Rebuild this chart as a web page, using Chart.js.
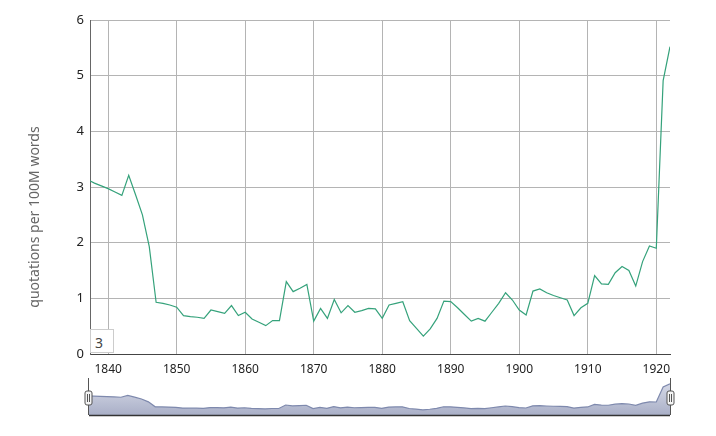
<!DOCTYPE html>
<html>
<head>
<meta charset="utf-8">
<script src="https://cdn.jsdelivr.net/npm/chart.js@4.4.0/dist/chart.umd.min.js"></script>
<style>
    body { margin: 0; background: #fff; }
    #wrap { position: relative; width: 716px; height: 436px; }
    #main { position: absolute; left: 0; top: 0; }
    #nav { position: absolute; left: 0; top: 370px; }
    #badge {
        position: absolute; left: 90px; top: 329px; width: 24px; height: 24px;
        background: #fff; border: 1px solid #ccc; box-sizing: border-box;
        font: 14px "Noto Sans", sans-serif; color: #444; padding: 3px 0 0 4px;
    }
</style>
</head>
<body>
<div id="wrap">
    <canvas id="main" width="716" height="436"></canvas>
    <canvas id="nav" width="716" height="60"></canvas>
    <div id="badge">3</div>
</div>
<script>
const years = [
    1837, 1838, 1839, 1840, 1841, 1842, 1843, 1844, 1845, 1846,
    1847, 1848, 1849, 1850, 1851, 1852, 1853, 1854, 1855, 1856,
    1857, 1858, 1859, 1860, 1861, 1862, 1863, 1864, 1865, 1866,
    1867, 1868, 1869, 1870, 1871, 1872, 1873, 1874, 1875, 1876,
    1877, 1878, 1879, 1880, 1881, 1882, 1883, 1884, 1885, 1886,
    1887, 1888, 1889, 1890, 1891, 1892, 1893, 1894, 1895, 1896,
    1897, 1898, 1899, 1900, 1901, 1902, 1903, 1904, 1905, 1906,
    1907, 1908, 1909, 1910, 1911, 1912, 1913, 1914, 1915, 1916,
    1917, 1918, 1919, 1920, 1921, 1922,
];
const quotations = [
    3.13, 3.07, 3.02, 2.97, 2.91, 2.85, 3.21, 2.86, 2.5, 1.93,
    0.93, 0.91, 0.88, 0.84, 0.69, 0.67, 0.66, 0.64, 0.79, 0.76,
    0.73, 0.87, 0.69, 0.75, 0.63, 0.57, 0.51, 0.6, 0.6, 1.3,
    1.12, 1.18, 1.25, 0.59, 0.82, 0.64, 0.98, 0.74, 0.87, 0.75,
    0.78, 0.82, 0.81, 0.64, 0.88, 0.91, 0.94, 0.6, 0.46, 0.32,
    0.45, 0.64, 0.95, 0.94, 0.83, 0.71, 0.59, 0.64, 0.59, 0.75,
    0.91, 1.1, 0.97, 0.79, 0.7, 1.13, 1.17, 1.1, 1.05, 1.01,
    0.97, 0.69, 0.83, 0.91, 1.41, 1.26, 1.25, 1.46, 1.57, 1.5,
    1.22, 1.66, 1.94, 1.9, 4.91, 5.52,
];
const xTicks = [1840, 1850, 1860, 1870, 1880, 1890, 1900, 1910, 1920];
const yTicks = [0, 1, 2, 3, 4, 5, 6];
const yTitle = "quotations per 100M words";

const points = years.map((yr, i) => ({ x: yr, y: quotations[i] }));
const xMin = 1837.35, xMax = 1922;

// y title, a bit below the axis middle like the original
const yTitlePlugin = {
    id: "yTitle",
    afterDraw(chart) {
        const ctx = chart.ctx;
        ctx.save();
        ctx.translate(35, 217);
        ctx.rotate(-Math.PI / 2);
        ctx.font = '14px "Noto Sans"';
        ctx.fillStyle = "#666";
        ctx.textAlign = "center";
        ctx.textBaseline = "middle";
        ctx.fillText(yTitle, 0, 0);
        ctx.restore();
    },
};

// main chart
new Chart(document.getElementById("main"), {
    type: "line",
    data: {
        datasets: [
            {
                data: points,
                borderColor: "#35a27b",
                borderWidth: 1.2,
                pointRadius: 0,
                tension: 0,
                fill: false,
            },
        ],
    },
    options: {
        responsive: false,
        animation: false,
        layout: { padding: { top: 20, right: 46, bottom: 60, left: 0 } },
        plugins: { legend: { display: false }, tooltip: { enabled: false } },
        scales: {
            x: {
                type: "linear",
                min: xMin,
                max: xMax,
                afterBuildTicks: (s) => { s.ticks = xTicks.map((v) => ({ value: v })); },
                afterFit: (s) => { s.height = 22; },
                ticks: {
                    color: "#222",
                    font: { family: "Noto Sans", size: 12 },
                    padding: 8,
                    maxRotation: 0,
                    callback: (v) => String(v),
                },
                grid: { color: "#b4b4b4", drawTicks: false },
                border: { color: "#444", width: 1 },
            },
            y: {
                min: 0,
                max: 6,
                afterBuildTicks: (s) => { s.ticks = yTicks.map((v) => ({ value: v })); },
                afterFit: (s) => { s.width = 90; },
                ticks: {
                    color: "#222",
                    font: { family: "Noto Sans", size: 13 },
                    padding: 6,
                },
                grid: { color: "#b4b4b4", drawTicks: false },
                border: { color: "#666", width: 1 },
            },
        },
    },
    plugins: [yTitlePlugin],
});

// navigator handles + bottom line
const navPlugin = {
    id: "navDecor",
    afterDraw(chart) {
        const ctx = chart.ctx;
        const a = chart.chartArea;
        ctx.save();
        ctx.strokeStyle = "#333";
        ctx.lineWidth = 1.5;
        ctx.beginPath();
        ctx.moveTo(a.left, a.bottom + 0.5);
        ctx.lineTo(a.right, a.bottom + 0.5);
        ctx.stroke();
        [a.left - 0.5, a.right + 0.5].forEach((x) => {
            ctx.strokeStyle = "#555";
            ctx.lineWidth = 1;
            ctx.beginPath();
            ctx.moveTo(x, a.top);
            ctx.lineTo(x, a.bottom);
            ctx.stroke();
            const hy = a.top + 13;
            ctx.fillStyle = "#f4f4f4";
            ctx.strokeStyle = "#555";
            ctx.beginPath();
            ctx.roundRect(x - 3.5, hy, 7, 14, 2);
            ctx.fill();
            ctx.stroke();
            ctx.beginPath();
            ctx.moveTo(x - 1, hy + 3);
            ctx.lineTo(x - 1, hy + 11);
            ctx.moveTo(x + 1, hy + 3);
            ctx.lineTo(x + 1, hy + 11);
            ctx.stroke();
        });
        ctx.restore();
    },
};

new Chart(document.getElementById("nav"), {
    type: "line",
    data: {
        datasets: [
            {
                data: points,
                borderColor: "#7e89ad",
                borderWidth: 1.2,
                pointRadius: 0,
                tension: 0,
                fill: "start",
                backgroundColor: (c) => {
                    const a = c.chart.chartArea;
                    if (!a) return "#c4c9dc";
                    const g = c.chart.ctx.createLinearGradient(0, a.top, 0, a.bottom);
                    g.addColorStop(0, "#dde0ec");
                    g.addColorStop(1, "#a9afc7");
                    return g;
                },
            },
        ],
    },
    options: {
        responsive: false,
        animation: false,
        layout: { padding: { top: 8, right: 46, bottom: 15, left: 89 } },
        plugins: { legend: { display: false }, tooltip: { enabled: false } },
        scales: {
            x: { type: "linear", min: xMin, max: xMax, display: false },
            y: { min: -0.7, max: 6.7, display: false },
        },
    },
    plugins: [navPlugin],
});
</script>
</body>
</html>
